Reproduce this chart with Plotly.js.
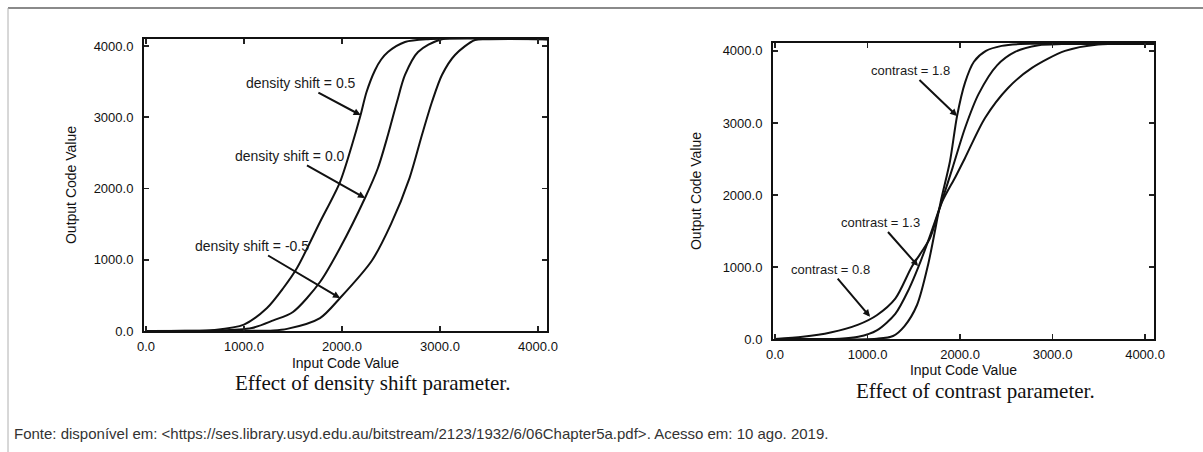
<!DOCTYPE html>
<html>
<head>
<meta charset="utf-8">
<script src="https://cdn.plot.ly/plotly-3.0.1.min.js"></script>
<style>html,body{margin:0;padding:0;background:#fff;}#chart{width:1203px;height:452px;}</style>
</head>
<body>
<div id="chart"></div>
<script>
// ---- Left chart: effect of density shift ----
const dsLabels = ["density shift = 0.5", "density shift = 0.0", "density shift = -0.5"];
const dsPos_x = [0, 400, 700, 1000, 1235, 1400, 1541, 1776, 1980, 2100, 2190, 2250, 2337, 2400, 2469, 2643, 2878, 4095];
const dsPos_y = [0, 3, 15, 90, 323, 600, 884, 1530, 2091, 2600, 3030, 3350, 3660, 3810, 3916, 4056, 4095, 4095];
const dsZero_x = [0, 700, 1080, 1300, 1500, 1776, 1980, 2235, 2367, 2469, 2561, 2643, 2776, 3020, 4095];
const dsZero_y = [0, 3, 42, 150, 267, 688, 1165, 1867, 2288, 2751, 3214, 3593, 3916, 4095, 4095];
const dsNeg_x = [0, 1000, 1300, 1440, 1776, 1980, 2306, 2500, 2690, 2816, 2918, 3020, 3153, 3357, 3500, 4095];
const dsNeg_y = [0, 2, 8, 30, 182, 463, 990, 1500, 2150, 2751, 3214, 3593, 3874, 4084, 4095, 4095];
// arrow tips on the curves (data units)
const dsArrow_x = [2190, 2235, 1980];
const dsArrow_y = [3030, 1867, 463];

// ---- Right chart: effect of contrast ----
const ctLabels = ["contrast = 1.8", "contrast = 1.3", "contrast = 0.8"];
const ct18_x = [0, 1100, 1276, 1400, 1535, 1654, 1790, 1892, 1968, 2054, 2150, 2280, 2450, 2650, 4095];
const ct18_y = [0, 5, 42, 180, 472, 1028, 1900, 2472, 3097, 3560, 3850, 4000, 4070, 4095, 4095];
const ct13_x = [0, 700, 900, 1100, 1300, 1450, 1550, 1680, 1800, 1920, 2054, 2200, 2400, 2600, 2850, 3100, 4095];
const ct13_y = [0, 5, 30, 120, 350, 700, 1000, 1450, 1900, 2380, 2930, 3400, 3800, 3990, 4080, 4095, 4095];
const ct08_x = [0, 300, 600, 900, 1100, 1300, 1477, 1580, 1676, 1805, 1950, 2054, 2270, 2519, 2778, 3135, 3492, 4095];
const ct08_y = [0, 30, 90, 200, 330, 560, 1000, 1200, 1403, 1900, 2250, 2514, 3069, 3486, 3764, 4000, 4090, 4095];
const ctArrow_x = [1968, 1546, 1027];
const ctArrow_y = [3097, 1014, 310];

const xTicks = [0, 1000, 2000, 3000, 4000];
const yTicks = [0, 1000, 2000, 3000, 4000];
const xTitle = "Input Code Value";
const yTitle = "Output Code Value";
const captions = ["Effect of density shift parameter.", "Effect of contrast parameter."];
const footnote = "Fonte: disponível em: <https://ses.library.usyd.edu.au/bitstream/2123/1932/6/06Chapter5a.pdf>. Acesso em: 10 ago. 2019.";

const lineStyle = {color: "#111", width: 2, shape: "spline", smoothing: 0.8};
const traces = [
  {x: dsPos_x, y: dsPos_y, xaxis: "x", yaxis: "y", mode: "lines", line: lineStyle, name: dsLabels[0]},
  {x: dsZero_x, y: dsZero_y, xaxis: "x", yaxis: "y", mode: "lines", line: lineStyle, name: dsLabels[1]},
  {x: dsNeg_x, y: dsNeg_y, xaxis: "x", yaxis: "y", mode: "lines", line: lineStyle, name: dsLabels[2]},
  {x: ct18_x, y: ct18_y, xaxis: "x2", yaxis: "y2", mode: "lines", line: lineStyle, name: ctLabels[0]},
  {x: ct13_x, y: ct13_y, xaxis: "x2", yaxis: "y2", mode: "lines", line: lineStyle, name: ctLabels[1]},
  {x: ct08_x, y: ct08_y, xaxis: "x2", yaxis: "y2", mode: "lines", line: lineStyle, name: ctLabels[2]}
];

const SANS = "Liberation Sans, Arial, sans-serif";
const tickFont = {family: SANS, size: 13, color: "#111"};
const titleFont = {family: SANS, size: 14, color: "#111"};
function axis(extra) {
  return Object.assign({
    showline: true, mirror: "ticks", linecolor: "#111", linewidth: 2,
    ticks: "inside", ticklen: 5, tickwidth: 1.5, tickcolor: "#222",
    showgrid: false, zeroline: false, tickformat: ".1f",
    tickfont: tickFont, fixedrange: true
  }, extra);
}

const W = 1203, H = 452;
const layout = {
  width: W, height: H,
  margin: {l: 0, r: 0, t: 0, b: 0},
  paper_bgcolor: "#fff", plot_bgcolor: "#fff",
  showlegend: false,
  xaxis: axis({domain: [144 / W, 547 / W], range: [-20, 4092], tickvals: xTicks, anchor: "y",
    ticklabelstandoff: 2, title: {text: xTitle, font: titleFont, standoff: 6}}),
  yaxis: axis({domain: [(H - 331) / H, (H - 39) / H], range: [0, 4098], tickvals: yTicks, anchor: "x",
    ticklabelstandoff: 6, title: {text: yTitle, font: titleFont, standoff: 14}}),
  xaxis2: axis({domain: [773 / W, 1154 / W], range: [-22, 4097], tickvals: xTicks, anchor: "y2",
    ticklabelstandoff: 2, title: {text: xTitle, font: titleFont, standoff: 5}}),
  yaxis2: axis({domain: [(H - 339) / H, (H - 43) / H], range: [0, 4110], tickvals: yTicks, anchor: "x2",
    ticklabelstandoff: 6, title: {text: yTitle, font: titleFont, standoff: 18}}),
  shapes: [
    {type: "line", xref: "paper", yref: "paper", x0: 8 / W, x1: 1, y0: 1 - 8 / H, y1: 1 - 8 / H, line: {color: "#8a8a8a", width: 2}},
    {type: "line", xref: "paper", yref: "paper", x0: 8 / W, x1: 8 / W, y0: 0, y1: 1 - 8 / H, line: {color: "#b0b0b0", width: 1}}
  ],
  annotations: []
};

const dsFont = {family: SANS, size: 14, color: "#1a1a1a"};
const ctFont = {family: SANS, size: 13, color: "#1a1a1a"};
const dsOffsets = [[-60, -32], [-75, -42], [-88, -52]];
const ctOffsets = [[-47, -45], [-38, -43], [-40, -47]];
dsLabels.forEach((t, i) => layout.annotations.push({
  xref: "x", yref: "y", x: dsArrow_x[i], y: dsArrow_y[i], text: t, font: dsFont,
  showarrow: true, ax: dsOffsets[i][0], ay: dsOffsets[i][1], arrowhead: 2, arrowsize: 0.7, arrowwidth: 2, arrowcolor: "#111"
}));
ctLabels.forEach((t, i) => layout.annotations.push({
  xref: "x2", yref: "y2", x: ctArrow_x[i], y: ctArrow_y[i], text: t, font: ctFont,
  showarrow: true, ax: ctOffsets[i][0], ay: ctOffsets[i][1], arrowhead: 2, arrowsize: 0.7, arrowwidth: 2, arrowcolor: "#111"
}));
layout.annotations.push(
  {xref: "paper", yref: "paper", x: 372 / W, y: 1 - 383 / H, xanchor: "center", yanchor: "middle",
   text: captions[0], showarrow: false, font: {family: "Liberation Serif, Times New Roman, serif", size: 21, color: "#111"}},
  {xref: "paper", yref: "paper", x: 975 / W, y: 1 - 391 / H, xanchor: "center", yanchor: "middle",
   text: captions[1], showarrow: false, font: {family: "Liberation Serif, Times New Roman, serif", size: 21, color: "#111"}},
  {xref: "paper", yref: "paper", x: 12 / W, y: 1 - 433 / H, xanchor: "left", yanchor: "middle", text: footnote, showarrow: false,
   font: {family: SANS, size: 15, color: "#333"}}
);

Plotly.newPlot("chart", traces, layout, {staticPlot: true, displayModeBar: false});
</script>
</body>
</html>
